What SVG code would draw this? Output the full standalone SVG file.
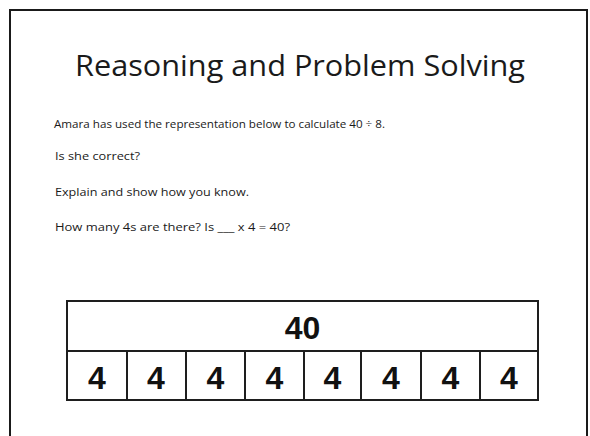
<svg xmlns="http://www.w3.org/2000/svg" width="590" height="436" viewBox="0 0 590 436">
<style>
.frame{fill:none;stroke:#1a1a1a;stroke-width:2}
.title{font-family:"Open Sans","Liberation Sans",sans-serif;font-size:30px;fill:#1a1a1a;text-anchor:middle}
.body{font-family:"Open Sans","Liberation Sans",sans-serif;font-size:11px;fill:#1a1a1a}
.cell{fill:#fff;stroke:#1e1e1e;stroke-width:2}
.num{font-family:"Liberation Sans",Arial,sans-serif;font-weight:bold;font-size:32px;fill:#111;text-anchor:middle}
</style>
<rect width="590" height="436" fill="#fff"/>
<path class="frame" d="M10,440 V10 H587 V440"/>
<text class="title" x="300" y="76" textLength="450" lengthAdjust="spacingAndGlyphs">Reasoning and Problem Solving</text>
<text class="body" x="54" y="128" textLength="331" lengthAdjust="spacingAndGlyphs">Amara has used the representation below to calculate 40 ÷ 8.</text>
<text class="body" x="55" y="160" textLength="85" lengthAdjust="spacingAndGlyphs">Is she correct?</text>
<text class="body" x="55" y="196" textLength="194" lengthAdjust="spacingAndGlyphs">Explain and show how you know.</text>
<text class="body" x="55" y="231" textLength="235" lengthAdjust="spacingAndGlyphs">How many 4s are there? Is ___ x 4 = 40?</text>
<g id="whole">
<rect class="cell" x="67" y="301" width="471" height="50"/>
<text class="num" x="302.5" y="339">40</text>
</g>
<g id="parts">
<rect class="cell" x="67" y="351" width="471" height="49"/>
<g class="num">
<text x="97" y="389">4</text><text x="156" y="389">4</text><text x="215.5" y="389">4</text><text x="274.5" y="389">4</text>
<text x="332.5" y="389">4</text><text x="391" y="389">4</text><text x="450.5" y="389">4</text><text x="509" y="389">4</text>
</g>
</g>
<g id="connectors" stroke="#1e1e1e" stroke-width="2">
<line x1="127" y1="351" x2="127" y2="400"/>
<line x1="186" y1="351" x2="186" y2="400"/>
<line x1="245" y1="351" x2="245" y2="400"/>
<line x1="304" y1="351" x2="304" y2="400"/>
<line x1="361" y1="351" x2="361" y2="400"/>
<line x1="421" y1="351" x2="421" y2="400"/>
<line x1="480" y1="351" x2="480" y2="400"/>
</g>
</svg>
